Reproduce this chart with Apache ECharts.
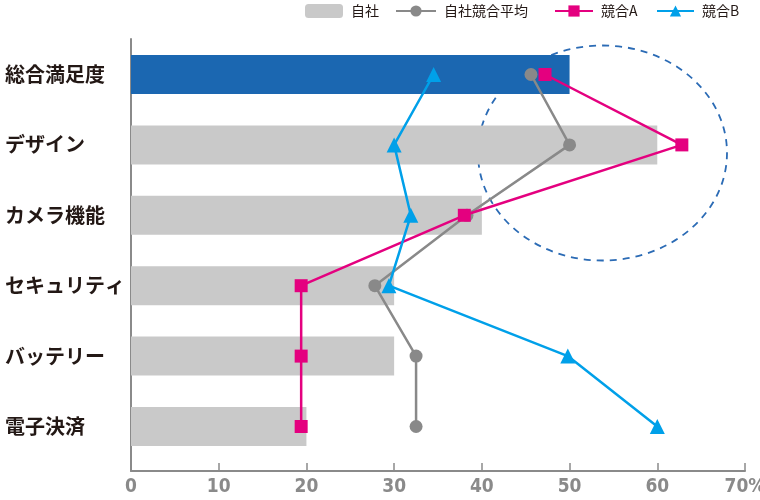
<!DOCTYPE html>
<html>
<head>
<meta charset="utf-8">
<script src="https://cdn.jsdelivr.net/npm/echarts@6/dist/echarts.min.js"></script>
<style>
html,body{margin:0;padding:0;background:#fff;}
#c{width:760px;height:500px;}
</style>
</head>
<body>
<div id="c"></div>
<script>
var categories = ['総合満足度', 'デザイン', 'カメラ機能', 'セキュリティ', 'バッテリー', '電子決済'];
var ownValues = [50, 60, 40, 30, 30, 20];
var avgValues = [45.6, 50, 38.3, 27.8, 32.5, 32.5];
var compAValues = [47.2, 62.8, 38, 19.4, 19.4, 19.4];
var compBValues = [34.5, 30, 31.9, 29.4, 49.8, 60];
var xTicks = [0, 10, 20, 30, 40, 50, 60, 70];
var seriesNames = ['自社', '自社競合平均', '競合A', '競合B'];

var chart = echarts.init(document.getElementById('c'), null, {renderer: 'canvas'});

var barData = ownValues.map(function (v, i) {
  return i === 0 ? {value: v, itemStyle: {color: '#1b67b1'}} : v;
});

var legendBase = {
  top: 4, padding: 0, itemHeight: 14,
  textStyle: {fontSize: 14, color: '#231815', fontFamily: 'Noto Sans CJK JP', padding: [0, 0, 0, 3]},
  selectedMode: false
};
function legendAt(name, left, w) {
  return Object.assign({}, legendBase, {data: [name], left: left, itemWidth: w});
}

chart.setOption({
  animation: false,
  graphic: [{
    type: 'ellipse', z: 0,
    shape: {cx: 602.5, cy: 153, rx: 124.5, ry: 107.5},
    style: {fill: 'none', stroke: '#2b6bb5', lineWidth: 1.8, lineDash: [7, 6]}
  }],
  legend: [
    legendAt(seriesNames[0], 305, 38),
    legendAt(seriesNames[1], 395, 40),
    legendAt(seriesNames[2], 554, 38),
    legendAt(seriesNames[3], 656, 37)
  ],
  grid: [
    {left: 131, right: 15, top: 39.3, bottom: 38.3, outerBoundsMode: 'none', containLabel: false},
    {left: 131, right: 15, top: 39, bottom: 29, outerBoundsMode: 'none', containLabel: false}
  ],
  xAxis: [
    {gridIndex: 0, type: 'value', min: 0, max: 70, interval: 10, show: false},
    {gridIndex: 1, type: 'value', min: xTicks[0], max: xTicks[xTicks.length - 1], interval: 10,
      axisLine: {show: true, lineStyle: {color: '#8a8a8a', width: 2}},
      axisTick: {show: true, inside: true, length: 8, lineStyle: {color: '#8a8a8a', width: 1.5}},
      splitLine: {show: false},
      axisLabel: {
        margin: 7, color: '#8a8a8a', fontSize: 19, fontWeight: 'bold',
        fontFamily: "'Liberation Sans Narrow', 'DejaVu Sans Condensed', sans-serif",
        formatter: function (v) { return v === 70 ? '70%' : String(v); }
      }
    }
  ],
  yAxis: [
    {gridIndex: 0, type: 'category', data: categories, inverse: true,
      axisLine: {show: false}, axisTick: {show: false},
      axisLabel: {align: 'left', margin: 126, fontSize: 20, fontWeight: 'bold', color: '#231815',
        fontFamily: 'Noto Sans CJK JP'}
    },
    {gridIndex: 1, type: 'value', min: 0, max: 1,
      axisLine: {show: true, lineStyle: {color: '#8a8a8a', width: 2}},
      axisTick: {show: false}, axisLabel: {show: false}, splitLine: {show: false}
    }
  ],
  series: [
    {name: seriesNames[0], type: 'bar', data: barData, barWidth: 39,
      itemStyle: {color: '#c9c9c9'}, xAxisIndex: 0, yAxisIndex: 0, z: 2},
    {name: seriesNames[1], type: 'line', data: avgValues, xAxisIndex: 0, yAxisIndex: 0,
      symbol: 'circle', symbolSize: 13, color: '#898989',
      lineStyle: {color: '#898989', width: 2.5}, itemStyle: {color: '#898989'}, z: 3},
    {name: seriesNames[2], type: 'line', data: compAValues, xAxisIndex: 0, yAxisIndex: 0,
      symbol: 'rect', symbolSize: 13, color: '#e4007f',
      lineStyle: {color: '#e4007f', width: 2.5}, itemStyle: {color: '#e4007f'}, z: 4},
    {name: seriesNames[3], type: 'line', data: compBValues, xAxisIndex: 0, yAxisIndex: 0,
      symbol: 'triangle', symbolSize: 15, color: '#00a0e9',
      lineStyle: {color: '#00a0e9', width: 2.5}, itemStyle: {color: '#00a0e9'}, z: 5}
  ]
});
</script>
</body>
</html>
